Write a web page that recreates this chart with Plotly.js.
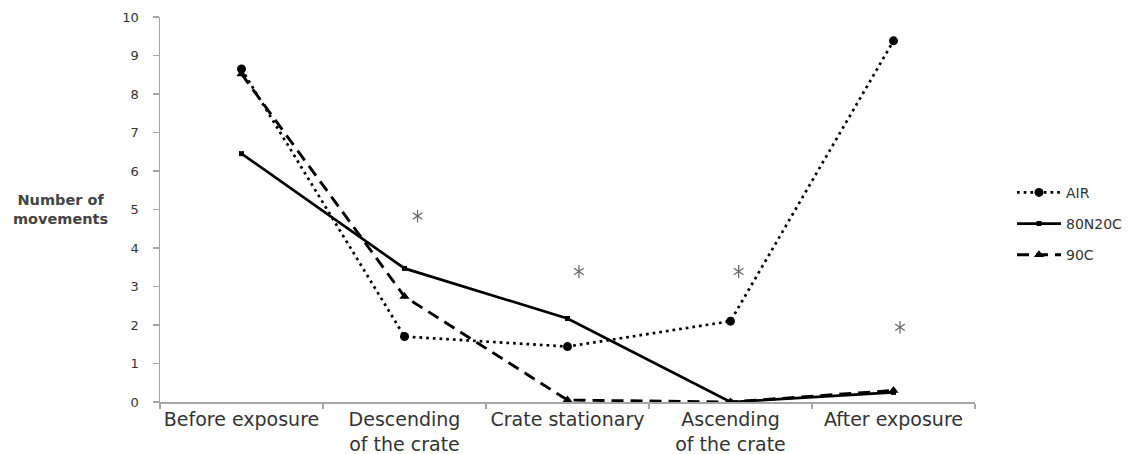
<!DOCTYPE html>
<html>
<head>
<meta charset="utf-8">
<script src="https://cdn.plot.ly/plotly-3.0.1.min.js"></script>
<style>html,body{margin:0;padding:0;background:#fff;}#chart{width:1136px;height:454px;}</style>
</head>
<body>
<div id="chart"></div>
<script>
const categories = ["Before exposure", "Descending<br>of the crate", "Crate stationary", "Ascending<br>of the crate", "After exposure"];
const airValues = [8.65, 1.70, 1.44, 2.10, 9.38];
const n80c20Values = [6.45, 3.47, 2.17, 0.00, 0.25];
const c90Values = [8.52, 2.74, 0.05, 0.00, 0.30];
// significance asterisks: position (category index, slightly right of centre) and height
const starX = [1.08, 2.07, 3.05, 4.04];
const starY = [4.83, 3.39, 3.39, 1.94];
const yTicks = [0,1,2,3,4,5,6,7,8,9,10];

const black = '#000';
const traces = [
  {x: categories, y: airValues, name: 'AIR', mode: 'lines+markers', legendgroup: 'a',
   line: {color: black, width: 2.7, dash: '2.7px,4px'}, marker: {symbol: 'circle', size: 9, color: black}},
  {x: categories, y: n80c20Values, name: '80N20C', mode: 'lines+markers', legendgroup: 'b',
   line: {color: black, width: 2.7}, marker: {symbol: 'square', size: 5, color: black}},
  {x: categories, y: c90Values, name: '90C', mode: 'lines+markers', legendgroup: 'c',
   line: {color: black, width: 2.9, dash: '12px,7px'}, marker: {symbol: 'triangle-up', size: 9, color: black}},
  {x: starX, y: starY, xaxis: 'x2', mode: 'markers', showlegend: false, hoverinfo: 'skip',
   marker: {symbol: 'y-up-open', size: 8, color: '#666', line: {color: '#666', width: 1.2}}},
  {x: starX, y: starY, xaxis: 'x2', mode: 'markers', showlegend: false, hoverinfo: 'skip',
   marker: {symbol: 'y-down-open', size: 8, color: '#666', line: {color: '#666', width: 1.2}}}
];

const layout = {
  width: 1136, height: 454,
  margin: {l: 160, r: 161, t: 17, b: 52, autoexpand: false},
  paper_bgcolor: '#fff', plot_bgcolor: '#fff',
  showlegend: true,
  legend: {x: 1.0454, xanchor: 'left', y: 0.585, yanchor: 'top', tracegroupgap: 10, itemwidth: 44,
           font: {family: 'DejaVu Sans', size: 14, color: '#333'}, bgcolor: 'rgba(0,0,0,0)'},
  xaxis: {type: 'category', range: [-0.5, 4.5], tickson: 'boundaries', ticks: 'outside', ticklen: 5,
          tickangle: 0, automargin: false,
          tickcolor: '#a6a6a6', tickwidth: 1.5, showline: true, linecolor: '#a6a6a6', linewidth: 1.5,
          showgrid: false, zeroline: false, fixedrange: true,
          tickfont: {family: 'DejaVu Sans', size: 19, color: '#333'}},
  xaxis2: {overlaying: 'x', range: [-0.5, 4.5], visible: false, showgrid: false, zeroline: false},
  yaxis: {range: [0, 10], tickvals: yTicks, ticks: 'outside', ticklen: 6, tickcolor: '#a6a6a6', tickwidth: 1.5,
          showline: true, linecolor: '#a6a6a6', linewidth: 1.5, showgrid: false, zeroline: false,
          ticklabelstandoff: 11, automargin: false,
          tickfont: {family: 'DejaVu Sans', size: 13, color: '#333'}},
  annotations: [{text: 'Number of<br>movements', xref: 'paper', yref: 'paper', x: -0.122, y: 0.50,
                 xanchor: 'center', yanchor: 'middle', showarrow: false, align: 'center',
                 font: {family: 'DejaVu Sans', size: 14.5, color: '#444', weight: 'bold'}}]
};

Plotly.newPlot('chart', traces, layout, {displayModeBar: false, staticPlot: true});
</script>
</body>
</html>
